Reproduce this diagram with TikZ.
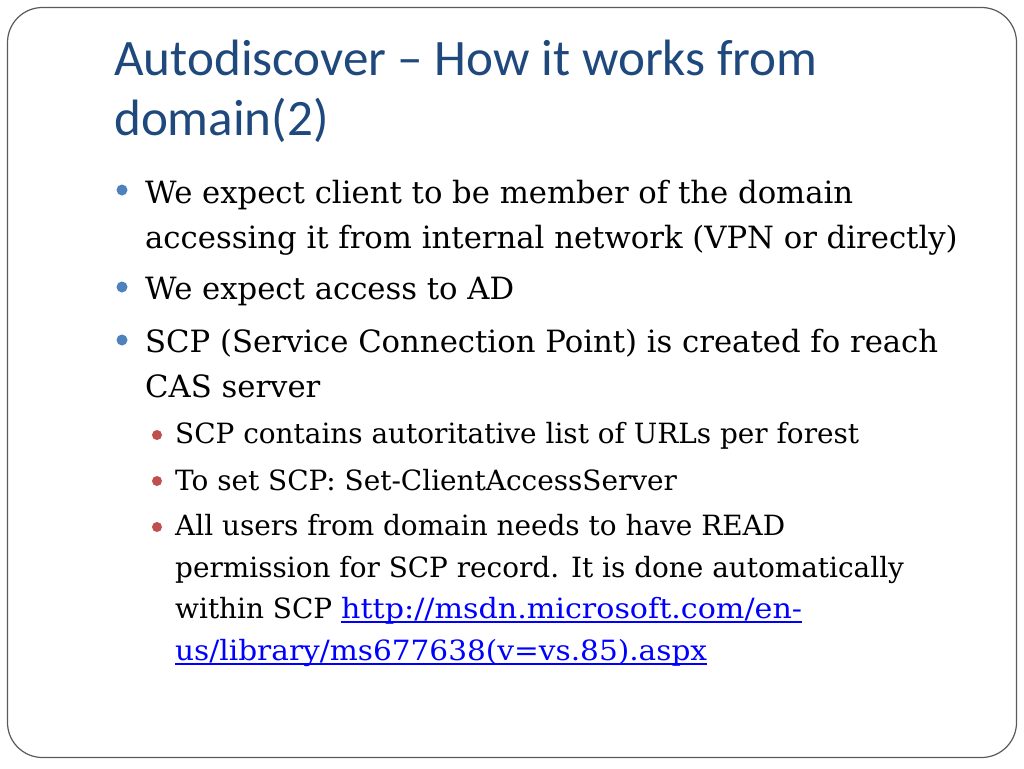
\documentclass[tikz,border=0pt]{standalone}
\usepackage{fontspec}
\setmainfont{DejaVu Serif}
\newfontfamily\titlefont{Carlito}
\definecolor{titleblue}{HTML}{1F497D}
\definecolor{bulblue}{HTML}{4F81BD}
\definecolor{bulred}{HTML}{C0504D}
\definecolor{framegray}{HTML}{5A5A5A}
\definecolor{linkblue}{HTML}{0000FF}
\begin{document}
\begin{tikzpicture}[x=1pt,y=-1pt,
  titletext/.style={anchor=base west,inner sep=0pt,text=titleblue,font=\titlefont\fontsize{51.1}{60}\selectfont},
  lvlone/.style={anchor=base west,inner sep=0pt,text=black,font=\fontsize{30.7}{36}\selectfont},
  lvltwo/.style={anchor=base west,inner sep=0pt,text=black,font=\fontsize{27.9}{32}\selectfont},
  linktext/.style={lvltwo,text=linkblue},
  linkline/.style={linkblue,line width=1.8pt},
  bulone/.style={circle,fill=bulblue,inner sep=0pt,minimum size=11pt},
  bultwo/.style={circle,fill=bulred,inner sep=0pt,minimum size=10pt}]
\useasboundingbox (0,0) rectangle (1024,768);
\fill[white] (0,0) rectangle (1024,768);
\draw[framegray,line width=1.2pt,rounded corners=35pt] (7.5,7.5) rectangle (1016.5,757.5);
% title
\node[titletext] (t1) at (114,75) {Autodiscover – How it works from};
\node[titletext] (t2) at (114,135) {domain(2)};
% level one
\node[bulone] (b1) at (122,190) {};
\node[lvlone] (l1a) at (145,203) {We expect client to be member of the domain};
\node[lvlone] (l1b) at (145,248) {accessing it from internal network (VPN or directly)};
\node[bulone] (b2) at (122,287) {};
\node[lvlone] (l2) at (145,299) {We expect access to AD};
\node[bulone] (b3) at (122,340) {};
\node[lvlone] (l3a) at (145,352) {SCP (Service Connection Point) is created fo reach};
\node[lvlone] (l3b) at (145,397) {CAS server};
% level two
\node[bultwo] (b4) at (157,435) {};
\node[lvltwo] (m1) at (175,443) {SCP contains autoritative list of URLs per forest};
\node[bultwo] (b5) at (157,481) {};
\node[lvltwo] (m2) at (175,490) {To set SCP: Set-ClientAccessServer};
\node[bultwo] (b6) at (157,527) {};
\node[lvltwo] (m3a) at (175,535) {All users from domain needs to have READ};
\node[lvltwo] (m3b) at (175,577) {permission for SCP record. It is done automatically};
\node[lvltwo] (m3c) at (175,618) {within SCP};
\node[linktext] (lk1) at (341,618) {\scalebox{1.08}[1]{http://msdn.microsoft.com/en-}};
\node[linktext] (lk2) at (175,660) {\scalebox{1.06}[1]{us/library/ms677638(v=vs.85).aspx}};
\draw[linkline] ([yshift=-4pt]lk1.base west) -- ([yshift=-4pt]lk1.base east);
\draw[linkline] ([yshift=-4pt]lk2.base west) -- ([yshift=-4pt]lk2.base east);
\end{tikzpicture}
\end{document}
